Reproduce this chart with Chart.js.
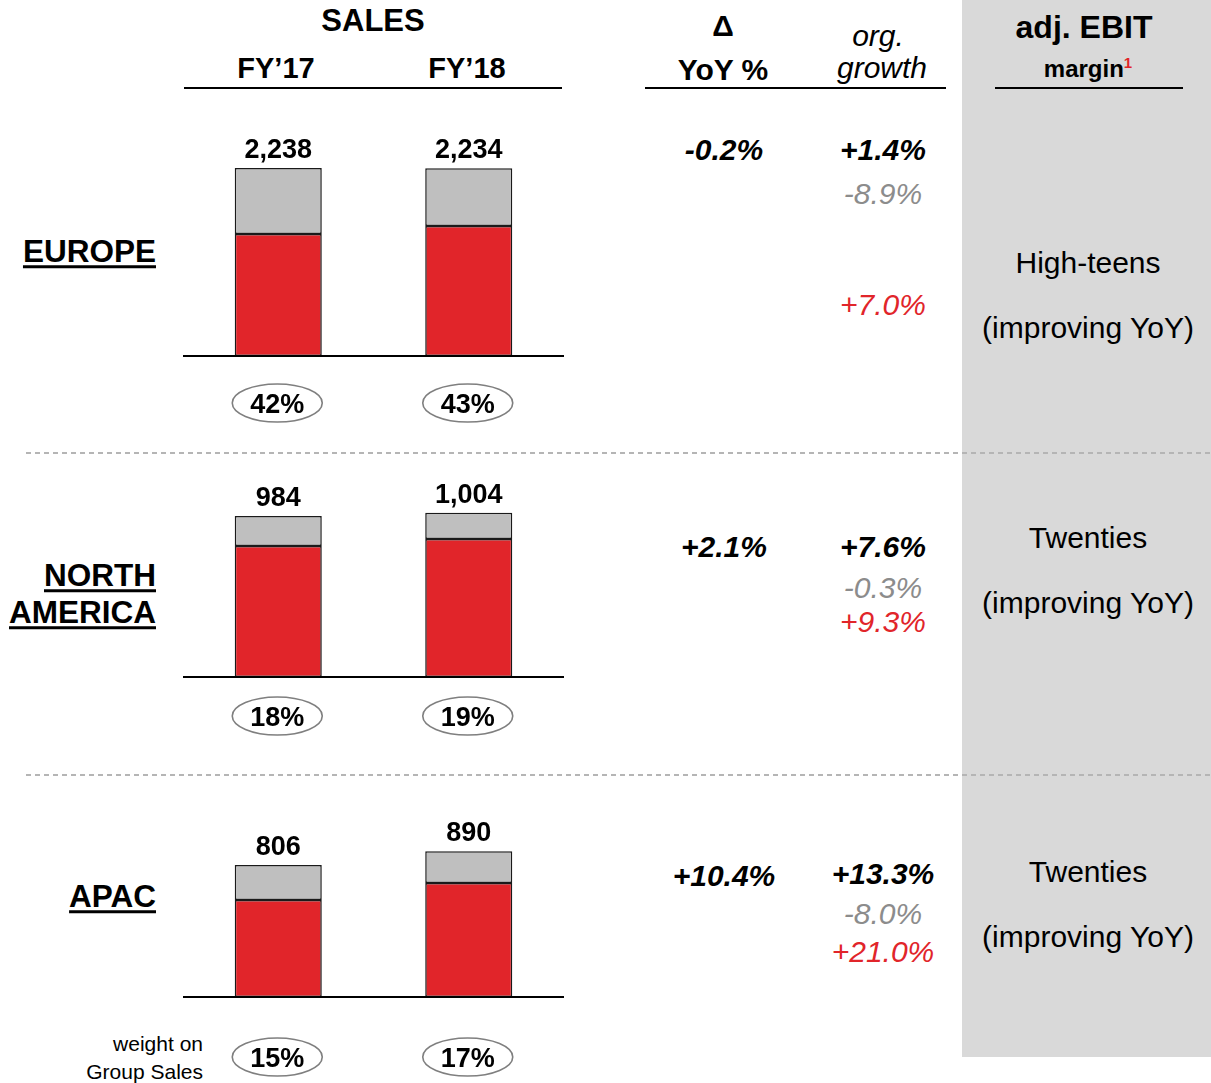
<!DOCTYPE html>
<html>
<head>
<meta charset="utf-8">
<script src="https://cdn.jsdelivr.net/npm/chart.js@4.4.1/dist/chart.umd.min.js"></script>
<style>
  body { margin: 0; width: 1211px; height: 1083px; position: relative; overflow: hidden; background: #fff;
         font-family: "Liberation Sans", Arial, sans-serif; color: #000; }
  .box { position: absolute; }
  .t { position: absolute; white-space: nowrap; line-height: 1; }
  .rule { position: absolute; height: 2px; background: #000; }
  .dash { position: absolute; height: 2px;
          background: repeating-linear-gradient(to right, #b5b5b5 0 5px, transparent 5px 9px); }
</style>
</head>
<body>
<div class="box" style="left:962px;top:0;width:249px;height:1057px;background:#d9d9d9"></div>
<div class="rule" style="left:184px;top:87px;width:378px"></div>
<div class="rule" style="left:645px;top:87px;width:301px"></div>
<div class="rule" style="left:995px;top:87px;width:188px"></div>
<div class="dash" style="left:26px;top:452px;width:1185px"></div>
<div class="dash" style="left:26px;top:774px;width:1185px"></div>

<script>
// data
const regions = [['EUROPE'], ['NORTH', 'AMERICA'], ['APAC']];
const years = ['FY\u201917', 'FY\u201918'];
const redSales = [[1452, 1548], [801, 843], [592, 696]];
const greySales = [[786, 686], [183, 161], [214, 194]];
const totalSales = [[2238, 2234], [984, 1004], [806, 890]];
const groupWeight = [['42%', '43%'], ['18%', '19%'], ['15%', '17%']];
const yoyChange = ['-0.2%', '+2.1%', '+10.4%'];
const orgGrowth = ['+1.4%', '+7.6%', '+13.3%'];
const greyGrowth = ['-8.9%', '-0.3%', '-8.0%'];
const redGrowth = ['+7.0%', '+9.3%', '+21.0%'];
const ebitMargin = ['High-teens', 'Twenties', 'Twenties'];
const ebitTrend = ['(improving YoY)', '(improving YoY)', '(improving YoY)'];

const FONT = '"Liberation Sans", Arial, sans-serif';
const RED = '#e1252a';
const GREY_BAR = '#bfbfbf';

// layout of each panel (pixels)
const panels = [
    { top: 110, height: 330, padTop: 40, padBottom: 84, yMax: 2452, ellipse: 47,
      labelY: [252], yoyY: 150, orgY: 150, greyY: 194, redY: 305, ebitY: 263, trendY: 328 },
    { top: 470, height: 290, padTop: 20, padBottom: 83, yMax: 1143, ellipse: 39,
      labelY: [576, 613], yoyY: 547, orgY: 547, greyY: 588, redY: 622, ebitY: 538, trendY: 603 },
    { top: 800, height: 283, padTop: 20, padBottom: 86, yMax: 1081, ellipse: 60,
      labelY: [897], yoyY: 876, orgY: 874, greyY: 914, redY: 952, ebitY: 872, trendY: 937 }
];

function put(html, x, y, css, align) {
    const el = document.createElement('div');
    el.className = 't';
    el.innerHTML = html;
    el.style.cssText += css;
    el.style.left = x + 'px';
    el.style.top = y + 'px';
    if (align === 'right') {
        el.style.transform = 'translate(-100%, -50%)';
    } else {
        el.style.transform = 'translate(-50%, -50%)';
    }
    document.body.appendChild(el);
    return el;
}

// header
put('SALES', 373, 20, 'font-size:31px;font-weight:bold;');
put(years[0], 276, 68, 'font-size:29px;font-weight:bold;');
put(years[1], 467, 68, 'font-size:29px;font-weight:bold;');
put('\u0394', 723, 26, 'font-size:30px;font-weight:bold;');
put('YoY %', 723, 70, 'font-size:30px;font-weight:bold;');
put('org.', 878, 36, 'font-size:30px;font-style:italic;');
put('growth', 882, 68, 'font-size:30px;font-style:italic;');
put('adj. EBIT', 1084, 27, 'font-size:32px;font-weight:bold;');
put('margin<sup style="color:' + RED + ';font-size:15px;vertical-align:9px">1</sup>', 1088, 68,
    'font-size:24px;font-weight:bold;');
put('weight on', 203, 1043, 'font-size:21px;', 'right');
put('Group Sales', 203, 1071, 'font-size:21px;', 'right');

const panelPlugin = {
    id: 'panelPlugin',
    afterDraw(chart) {
        const { ctx, chartArea, scales: { x, y } } = chart;
        const opts = chart.options.plugins.panelPlugin;
        const y0 = y.getPixelForValue(0);
        ctx.save();
        ctx.strokeStyle = '#000';
        ctx.lineWidth = 2;
        ctx.beginPath();
        ctx.moveTo(chartArea.left, y0);
        ctx.lineTo(chartArea.right, y0);
        ctx.stroke();

        ctx.font = 'bold 27px ' + FONT;
        ctx.textAlign = 'center';
        ctx.textBaseline = 'alphabetic';
        ctx.fillStyle = '#000';
        const topBars = chart.getDatasetMeta(1).data;
        opts.totals.forEach((total, i) => {
            const bar = topBars[i];
            ctx.fillText(total.toLocaleString('en-US'), bar.x, bar.y - 20 + 10);

            const ey = y0 + opts.ellipse;
            ctx.beginPath();
            ctx.ellipse(bar.x - 1, ey, 45, 19, 0, 0, Math.PI * 2);
            ctx.strokeStyle = '#7f7f7f';
            ctx.lineWidth = 1.6;
            ctx.stroke();
            ctx.fillText(opts.weights[i], bar.x - 1, ey + 10);
        });
        ctx.restore();
    }
};

panels.forEach((p, i) => {
    const wrap = document.createElement('div');
    wrap.className = 'box';
    wrap.style.left = '183px';
    wrap.style.top = p.top + 'px';
    wrap.style.width = '381px';
    wrap.style.height = p.height + 'px';
    const canvas = document.createElement('canvas');
    canvas.width = 381;
    canvas.height = p.height;
    wrap.appendChild(canvas);
    document.body.appendChild(wrap);

    new Chart(canvas.getContext('2d'), {
        type: 'bar',
        data: {
            labels: years,
            datasets: [
                { data: redSales[i], backgroundColor: RED },
                { data: greySales[i], backgroundColor: GREY_BAR }
            ]
        },
        options: {
            responsive: false,
            animation: false,
            layout: { padding: { top: p.padTop, bottom: p.padBottom, left: 0, right: 0 } },
            datasets: {
                bar: {
                    categoryPercentage: 1,
                    barPercentage: 0.457,
                    borderColor: '#1a1a1a',
                    borderWidth: 1.5,
                    borderSkipped: false
                }
            },
            scales: {
                x: { stacked: true, display: false },
                y: { stacked: true, display: false, min: 0, max: p.yMax }
            },
            plugins: {
                legend: { display: false },
                tooltip: { enabled: false },
                panelPlugin: { totals: totalSales[i], weights: groupWeight[i], ellipse: p.ellipse }
            }
        },
        plugins: [panelPlugin]
    });

    // region name
    regions[i].forEach((name, k) => {
        put(name, 156, p.labelY[k],
            'font-size:31.5px;font-weight:bold;text-decoration:underline;' +
            'text-decoration-thickness:3px;text-underline-offset:3px;', 'right');
    });

    // growth columns
    put(yoyChange[i], 724, p.yoyY, 'font-size:30px;font-weight:bold;font-style:italic;');
    put(orgGrowth[i], 883, p.orgY, 'font-size:30px;font-weight:bold;font-style:italic;');
    put(greyGrowth[i], 883, p.greyY, 'font-size:30px;font-style:italic;color:#8c8c8c;');
    put(redGrowth[i], 883, p.redY, 'font-size:30px;font-style:italic;color:' + RED + ';');

    // adj. EBIT margin
    put(ebitMargin[i], 1088, p.ebitY, 'font-size:30px;');
    put(ebitTrend[i], 1088, p.trendY, 'font-size:30px;');
});
</script>
</body>
</html>
